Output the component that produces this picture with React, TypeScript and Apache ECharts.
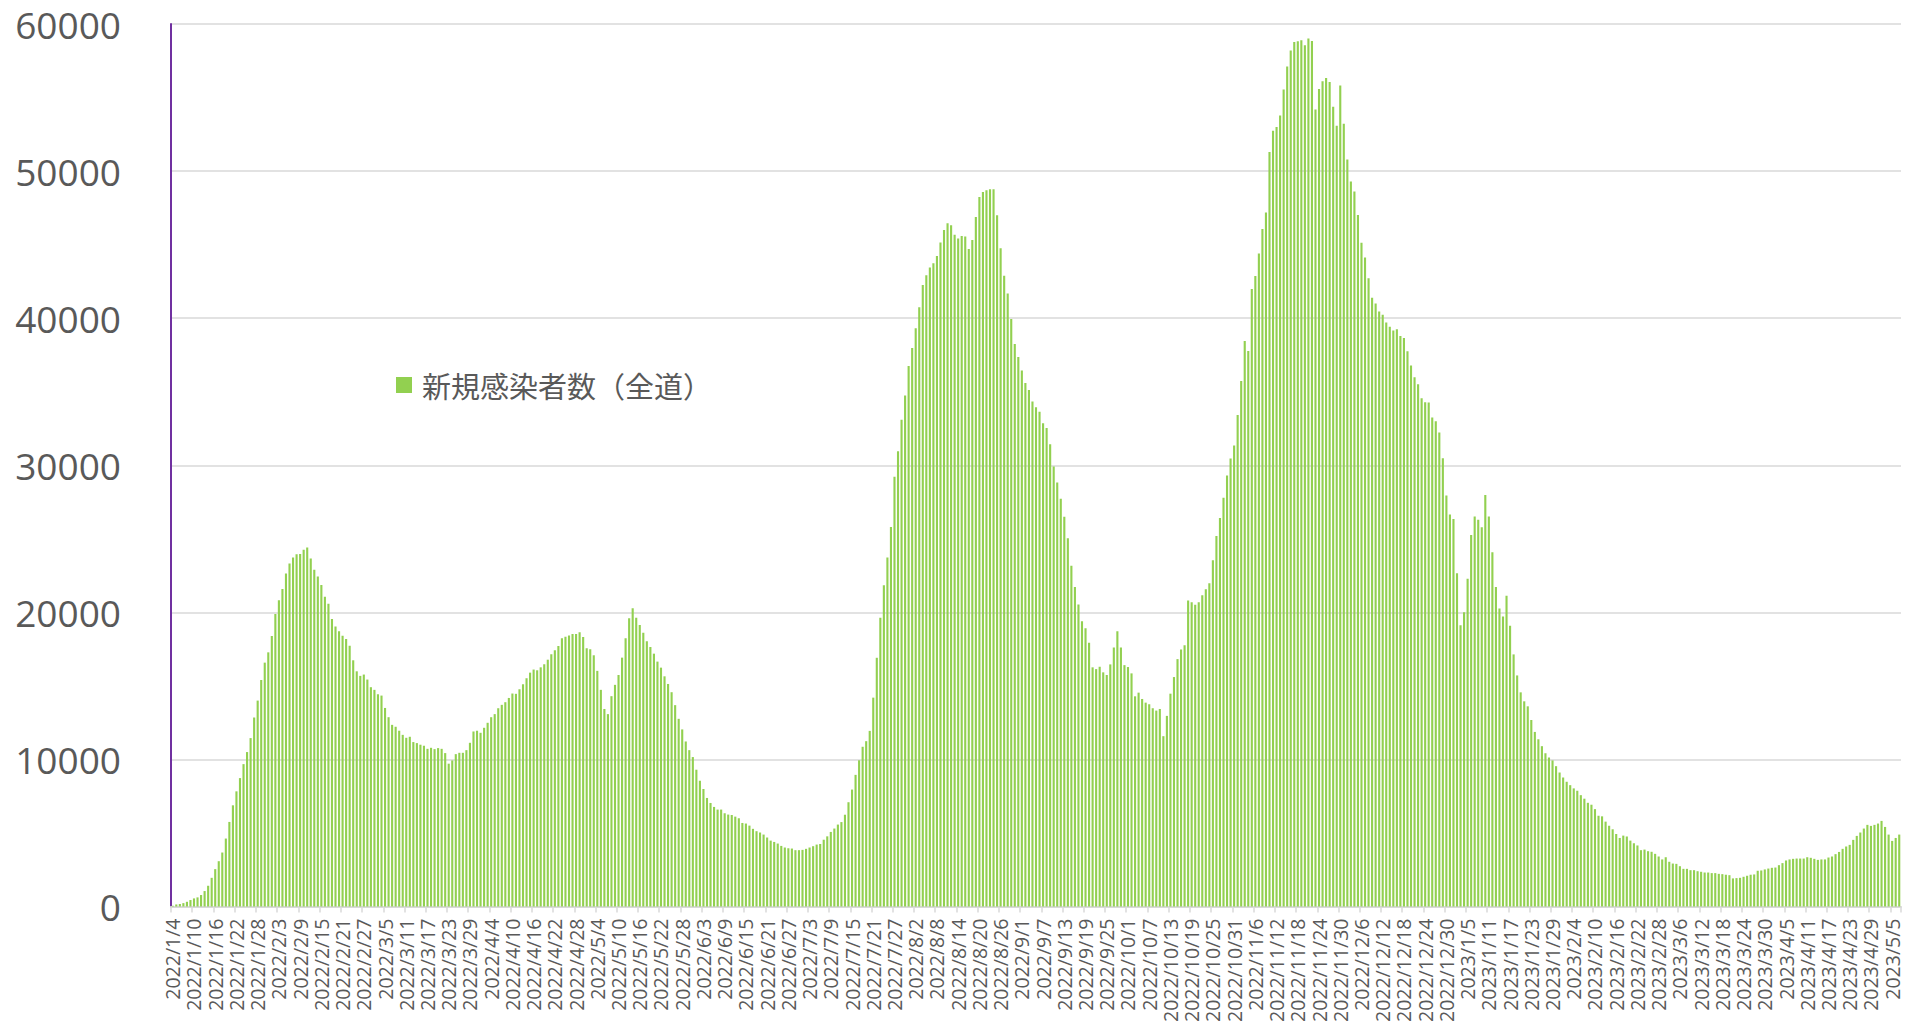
import React, { useEffect, useRef } from "react";
import * as echarts from "echarts";

const seriesName = "新規感染者数（全道）";
const firstDay = { year: 2022, month: 1, day: 4 };
const dayCount = 489;
const yMin = 0;
const yMax = 60000;
const yInterval = 10000;

// 2022/1/4 – 2022/3/5
const segment1 = [
  50, 140, 170, 230, 320, 440, 550, 620, 780, 1050,
  1410, 1950, 2540, 3080, 3670, 4620, 5750, 6880, 7830, 8730,
  9680, 10500, 11450, 12850, 14000, 15400, 16580, 17280, 18390, 19880,
  20830, 21580, 22640, 23320, 23720, 23950, 23970, 24250, 24400, 23660,
  22890, 22440, 21850, 21060, 20580, 19540, 19040, 18710, 18410, 18190,
  17730, 16740, 15990, 15680, 15770, 15430, 14910, 14730, 14430, 14340,
  13500,
];
// 2022/3/6 – 2022/5/5
const segment2 = [
  12870, 12350, 12220, 11950, 11670, 11470, 11540, 11180, 11110, 11000,
  10930, 10720, 10790, 10700, 10770, 10720, 10430, 9710, 9930, 10360,
  10450, 10450, 10630, 11130, 11900, 11950, 11810, 12150, 12490, 12870,
  13080, 13480, 13710, 13890, 14180, 14480, 14460, 14770, 15110, 15520,
  15900, 16110, 16060, 16260, 16470, 16780, 17150, 17420, 17710, 18230,
  18340, 18430, 18530, 18530, 18640, 18320, 17550, 17490, 17080, 16020,
  14730,
];
// 2022/5/6 – 2022/7/5
const segment3 = [
  13430, 13080, 14300, 15070, 15740, 16920, 18230, 19590, 20270, 19630,
  19140, 18620, 18030, 17640, 17190, 16650, 16240, 15650, 15130, 14570,
  13690, 12760, 12040, 11220, 10630, 10160, 9300, 8550, 7990, 7380,
  7040, 6770, 6590, 6590, 6340, 6250, 6220, 6110, 6000, 5680,
  5640, 5500, 5280, 5120, 5030, 4890, 4690, 4480, 4390, 4280,
  4120, 4010, 3960, 3940, 3830, 3830, 3850, 3920, 4010, 4100,
  4210,
];
// 2022/7/6 – 2022/9/5
const segment4 = [
  4250, 4540, 4770, 5070, 5300, 5570, 5740, 6240, 7090, 7950,
  8950, 9940, 10860, 11240, 11940, 14200, 16910, 19640, 21840, 23720,
  25810, 29220, 30950, 33100, 34740, 36740, 37970, 39320, 40740, 42260,
  42910, 43440, 43730, 44230, 45140, 45990, 46460, 46320, 45670, 45410,
  45580, 45550, 44700, 45320, 46880, 48230, 48580, 48700, 48760, 48760,
  46990, 44760, 42880, 41680, 39940, 38240, 37360, 36450, 35590, 35120,
  34330, 33950,
];
// 2022/9/6 – 2022/11/4
const segment5 = [
  33640, 32850, 32540, 31430, 29910, 28830, 27720, 26500, 25030, 23170,
  21730, 20530, 19400, 18920, 17930, 16260, 16140, 16300, 15920, 15740,
  16460, 17610, 18720, 17610, 16410, 16280, 15850, 14290, 14540, 14110,
  13860, 13750, 13480, 13320, 13430, 11580, 12960, 14470, 15600, 16820,
  17480, 17770, 20800, 20690, 20510, 20690, 21160, 21570, 21980, 23540,
  25190, 26410, 27790, 29300, 30460, 31340, 33420, 35720, 38440, 37760,
];
// 2022/11/5 – 2023/1/4
const segment6 = [
  41980, 42870, 44400, 46060, 47190, 51290, 52740, 53000, 53780, 55550,
  57110, 58200, 58770, 58820, 58900, 58550, 59010, 58850, 54180, 55580,
  56110, 56330, 56060, 54370, 53080, 55820, 53220, 50780, 49300, 48610,
  47020, 45120, 44130, 42710, 41390, 40990, 40460, 40240, 39710, 39410,
  39170, 39250, 38790, 38660, 37750, 36780, 35980, 35500, 34560, 34290,
  34260, 33240, 33000, 32230, 30480, 27940, 26650, 26350, 22650, 19120,
  20000,
];
// 2023/1/5 – 2023/3/6
const segment7 = [
  22290, 25260, 26520, 26300, 25780, 27970, 26520, 24080, 21730, 20260,
  19720, 21120, 19080, 17140, 15710, 14560, 13950, 13610, 12680, 11870,
  11370, 10900, 10420, 10130, 9930, 9540, 9110, 8770, 8480, 8250,
  8030, 7870, 7570, 7330, 7050, 6920, 6620, 6170, 6130, 5770,
  5490, 5250, 4930, 4660, 4820, 4760, 4480, 4300, 4150, 3830,
  3870, 3760, 3720, 3580, 3400, 3200, 3350, 3040, 2920, 2900,
  2740,
];
// 2023/3/7 – 2023/5/7
const segment8 = [
  2560, 2560, 2470, 2470, 2400, 2360, 2310, 2310, 2270, 2270,
  2220, 2200, 2160, 2130, 1910, 1930, 1950, 2020, 2090, 2160,
  2180, 2430, 2450, 2520, 2580, 2630, 2650, 2810, 2950, 3130,
  3200, 3240, 3260, 3260, 3260, 3350, 3310, 3240, 3170, 3200,
  3200, 3330, 3400, 3560, 3710, 3920, 4080, 4190, 4530, 4800,
  5030, 5300, 5550, 5480, 5550, 5640, 5820, 5410, 4890, 4460,
  4660, 4890,
];

const values = [
  ...segment1, ...segment2, ...segment3, ...segment4,
  ...segment5, ...segment6, ...segment7, ...segment8,
];

function buildCategories(): string[] {
  const out: string[] = [];
  const t0 = Date.UTC(firstDay.year, firstDay.month - 1, firstDay.day);
  for (let i = 0; i < dayCount; i++) {
    const d = new Date(t0 + i * 86400000);
    out.push(`${d.getUTCFullYear()}/${d.getUTCMonth() + 1}/${d.getUTCDate()}`);
  }
  return out;
}

const categories = buildCategories();

export default function App() {
  const ref = useRef<HTMLDivElement>(null);
  useEffect(() => {
    if (!ref.current) return;
    const chart = echarts.init(ref.current, null, { renderer: "svg" });
    chart.setOption({
      animation: false,
      backgroundColor: "#ffffff",
      grid: { left: 171, right: 13, top: 24, bottom: 117, containLabel: false },
      legend: {
        show: true,
        data: [seriesName],
        left: 396,
        top: 370,
        padding: 0,
        icon: "rect",
        itemWidth: 16,
        itemHeight: 16,
        textStyle: {
          fontSize: 29,
          lineHeight: 30,
          padding: [0, 0, 0, 5],
          color: "#595959",
          fontFamily: '"Noto Sans CJK JP", sans-serif',
        },
      },
      xAxis: {
        type: "category",
        data: categories,
        boundaryGap: true,
        axisLine: { lineStyle: { color: "#d9d9d9", width: 2 } },
        axisTick: {
          show: true,
          interval: 5,
          length: 6,
          lineStyle: { color: "#d9d9d9", width: 1.5 },
        },
        axisLabel: {
          interval: 5,
          rotate: 90,
          margin: 12,
          fontSize: 19.5,
          color: "#595959",
          fontFamily: '"Open Sans", sans-serif',
        },
        splitLine: { show: false },
      },
      yAxis: {
        type: "value",
        min: yMin,
        max: yMax,
        interval: yInterval,
        axisLine: { show: true, lineStyle: { color: "#7030A0", width: 2 } },
        axisTick: { show: false },
        axisLabel: {
          margin: 50,
          fontSize: 37,
          color: "#595959",
          fontFamily: '"Open Sans", sans-serif',
          formatter: (v: number) => String(v),
        },
        splitLine: { lineStyle: { color: "#d9d9d9", width: 1.5 } },
      },
      series: [
        {
          name: seriesName,
          type: "bar",
          data: values,
          barCategoryGap: "40%",
          itemStyle: { color: "#92D050" },
        },
      ],
    });
    return () => chart.dispose();
  }, []);
  return (
    <div
      ref={ref}
      style={{ position: "absolute", left: 0, top: 0, width: 1914, height: 1025 }}
    />
  );
}
